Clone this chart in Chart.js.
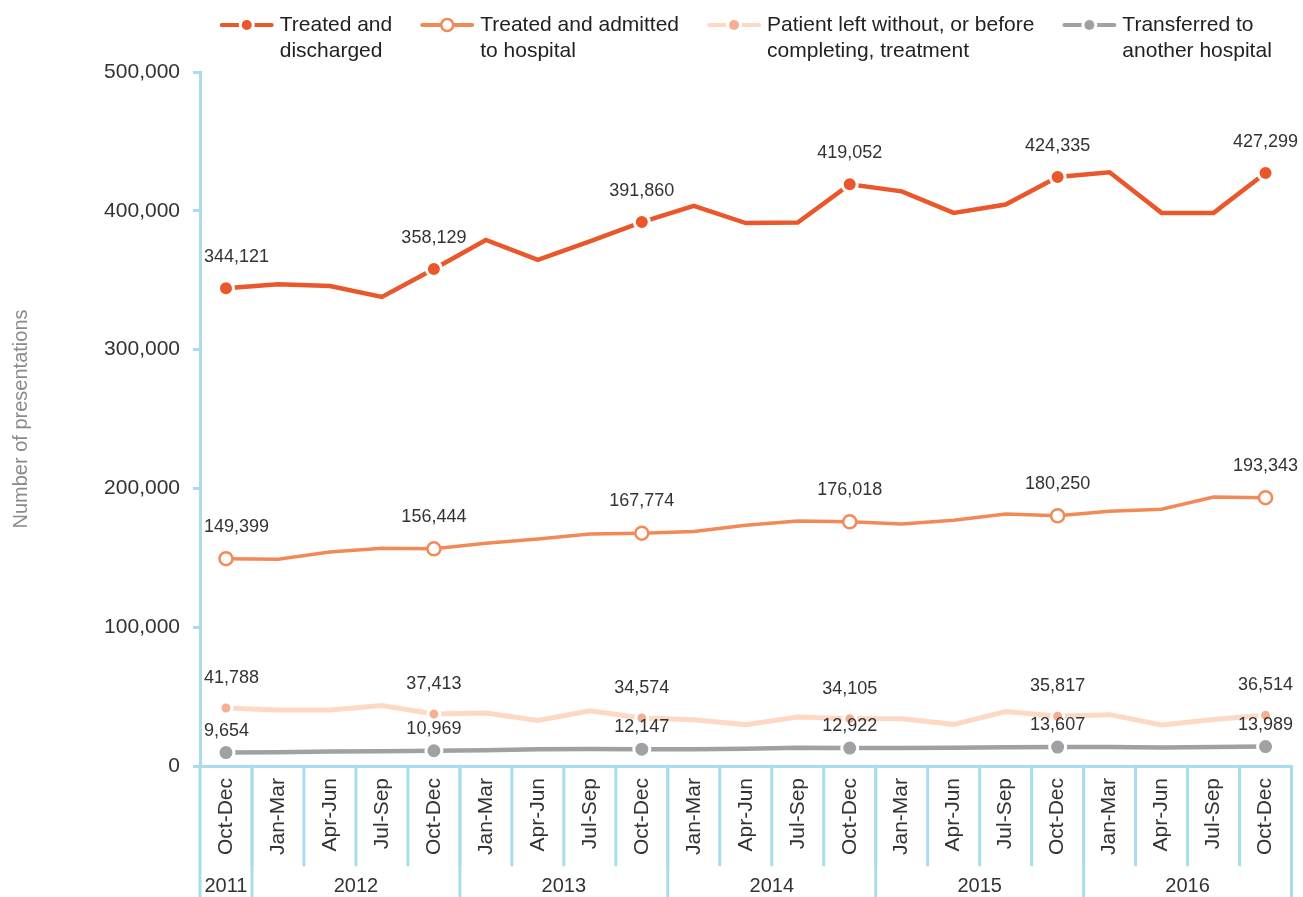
<!DOCTYPE html>
<html>
<head>
<meta charset="utf-8">
<script src="https://cdn.jsdelivr.net/npm/chart.js@4.4.0/dist/chart.umd.min.js"></script>
<style>
  html, body { margin: 0; padding: 0; background: #fff; }
  #wrap { width: 1303px; height: 897px; }
</style>
</head>
<body>
<div id="wrap"><canvas id="chart"></canvas></div>
<script>
// data
const quarters = ["Oct-Dec",
  "Jan-Mar", "Apr-Jun", "Jul-Sep", "Oct-Dec",
  "Jan-Mar", "Apr-Jun", "Jul-Sep", "Oct-Dec",
  "Jan-Mar", "Apr-Jun", "Jul-Sep", "Oct-Dec",
  "Jan-Mar", "Apr-Jun", "Jul-Sep", "Oct-Dec",
  "Jan-Mar", "Apr-Jun", "Jul-Sep", "Oct-Dec"];
const years = ["2011", "2012", "2013", "2014", "2015", "2016"];
const yearSpans = [1, 4, 4, 4, 4, 4];
const yTicks = [0, 100000, 200000, 300000, 400000, 500000];

const treatedDischarged = [344121, 347000, 345800, 337900, 358129, 379000, 364600, 378000, 391860,
  403500, 391200, 391500, 419052, 414000, 398500, 404500, 424335, 427800, 398500, 398500, 427299];
const treatedAdmitted = [149399, 149000, 154200, 156800, 156444, 160500, 163500, 167200, 167774,
  169000, 173400, 176500, 176018, 174400, 177000, 181500, 180250, 183500, 185000, 193800, 193343];
const patientLeft = [41788, 40300, 40400, 43500, 37413, 38200, 32800, 39800, 34574,
  33300, 29800, 35300, 34105, 34000, 30000, 39200, 35817, 37000, 29500, 33500, 36514];
const transferred = [9654, 9900, 10400, 10700, 10969, 11400, 12000, 12300, 12147,
  12100, 12400, 13100, 12922, 13000, 13200, 13500, 13607, 13700, 13300, 13600, 13989];

const seriesNames = [
  ["Treated and", "discharged"],
  ["Treated and admitted", "to hospital"],
  ["Patient left without, or before", "completing, treatment"],
  ["Transferred to", "another hospital"]
];

const axisBlue = "#a8dcee";
const FONT = "'Liberation Sans', Arial, sans-serif";
Chart.defaults.font.family = FONT;

const isMarker = i => quarters[i] === "Oct-Dec";

const styles = [
  { line: "#e9572b", dot: "#e9572b", hollow: false, width: 4.5, r: 7.5, off: 31 },
  { line: "#f28a58", dot: "#f28a58", hollow: true, width: 3.5, r: 6.5, off: 32 },
  { line: "#fdd8c5", dot: "#f6b08f", hollow: false, width: 5, r: 6, off: 30 },
  { line: "#a1a1a5", dot: "#a1a1a5", hollow: false, width: 4.5, r: 8, off: 22 }
];
const allSeries = [treatedDischarged, treatedAdmitted, patientLeft, transferred];

const datasets = allSeries.map((d, i) => {
  const s = styles[i];
  return {
    label: seriesNames[i].join(" "),
    data: d,
    borderColor: s.line,
    borderWidth: s.width,
    tension: 0,
    pointRadius: ctx => isMarker(ctx.dataIndex) ? s.r : 0,
    pointHoverRadius: ctx => isMarker(ctx.dataIndex) ? s.r : 0,
    pointBackgroundColor: s.hollow ? "#fff" : s.dot,
    pointBorderColor: s.hollow ? s.line : "#fff",
    pointBorderWidth: s.hollow ? 2.5 : 3
  };
});

// legend drawn above the plot, centred on the chart area
const legendRow = {
  id: "legendRow",
  afterDraw(chart) {
    const { ctx, chartArea } = chart;
    const symW = 54, gapText = 6, gapItem = 28, y1 = 25, lh = 26;
    ctx.save();
    ctx.font = "21px " + FONT;
    const widths = seriesNames.map(lines =>
      symW + gapText + Math.max(...lines.map(t => ctx.measureText(t).width)));
    const total = widths.reduce((a, b) => a + b, 0) + gapItem * (widths.length - 1);
    let x = (chartArea.left + chartArea.right) / 2 - total / 2;
    seriesNames.forEach((lines, i) => {
      const s = styles[i];
      ctx.strokeStyle = s.line; ctx.lineWidth = 4; ctx.lineCap = "round";
      ctx.beginPath(); ctx.moveTo(x + 2, y1); ctx.lineTo(x + symW - 2, y1); ctx.stroke();
      const cx = x + symW / 2;
      if (s.hollow) {
        ctx.fillStyle = "#fff"; ctx.lineWidth = 2.5;
        ctx.beginPath(); ctx.arc(cx, y1, 6, 0, Math.PI * 2); ctx.fill(); ctx.stroke();
      } else {
        ctx.fillStyle = "#fff";
        ctx.beginPath(); ctx.arc(cx, y1, 8, 0, Math.PI * 2); ctx.fill();
        ctx.fillStyle = s.dot;
        ctx.beginPath(); ctx.arc(cx, y1, 5, 0, Math.PI * 2); ctx.fill();
      }
      ctx.fillStyle = "#222";
      ctx.textAlign = "left";
      ctx.textBaseline = "middle";
      lines.forEach((t, k) => ctx.fillText(t, x + symW + gapText, y1 + k * lh));
      x += widths[i] + gapItem;
    });
    ctx.restore();
  }
};

// value labels + two-row x axis frame
const decor = {
  id: "decor",
  afterDatasetsDraw(chart) {
    const { ctx, chartArea } = chart;
    ctx.save();
    ctx.font = "18px " + FONT;
    ctx.fillStyle = "#333";
    ctx.textBaseline = "middle";
    ctx.textAlign = "center";
    chart.data.datasets.forEach((ds, di) => {
      const meta = chart.getDatasetMeta(di);
      meta.data.forEach((pt, i) => {
        if (!isMarker(i)) return;
        const txt = ds.data[i].toLocaleString("en-US");
        const w = ctx.measureText(txt).width;
        const x = Math.max(pt.x, chartArea.left + 4 + w / 2);
        ctx.fillText(txt, x, pt.y - styles[di].off);
      });
    });
    ctx.restore();
  },
  afterDraw(chart) {
    const { ctx, chartArea, scales: { x } } = chart;
    const top = chartArea.bottom;
    const bottom = chart.height;
    const half = (x.getPixelForValue(1) - x.getPixelForValue(0)) / 2;
    ctx.save();
    ctx.strokeStyle = axisBlue;
    ctx.lineWidth = 3;
    ctx.lineCap = "round";
    const line = (x1, y1, x2, y2) => { ctx.beginPath(); ctx.moveTo(x1, y1); ctx.lineTo(x2, y2); ctx.stroke(); };
    // y axis runs down through the category rows
    line(chartArea.left, top, chartArea.left, bottom);
    // quarter separators
    for (let i = 1; i < quarters.length; i++) {
      const px = x.getPixelForValue(i) - half;
      line(px, top, px, top + 99);
    }
    // year separators and year labels
    ctx.font = "20px " + FONT;
    ctx.fillStyle = "#333";
    ctx.textAlign = "center";
    ctx.textBaseline = "middle";
    let start = 0;
    years.forEach((yr, k) => {
      const end = start + yearSpans[k] - 1;
      const l = x.getPixelForValue(start) - half;
      const r = x.getPixelForValue(end) + half;
      line(r, top, r, bottom);
      ctx.fillText(yr, (l + r) / 2, top + 120);
      start = end + 1;
    });
    ctx.restore();
  }
};

new Chart(document.getElementById("chart"), {
  type: "line",
  data: { labels: quarters, datasets: datasets },
  options: {
    responsive: true,
    maintainAspectRatio: false,
    animation: false,
    events: [],
    layout: { padding: { top: 72, right: 8, left: 0, bottom: 0 } },
    plugins: {
      tooltip: { enabled: false },
      legend: { display: false }
    },
    scales: {
      x: {
        offset: true,
        grid: { display: false, drawTicks: false },
        border: { color: axisBlue, width: 3 },
        ticks: {
          autoSkip: false,
          minRotation: 90,
          maxRotation: 90,
          padding: 12,
          color: "#333",
          font: { size: 21 }
        },
        afterFit: s => { s.height = 131; }
      },
      y: {
        min: yTicks[0],
        max: yTicks[yTicks.length - 1],
        afterBuildTicks: s => { s.ticks = yTicks.map(v => ({ value: v })); },
        grid: { drawOnChartArea: false, drawTicks: true, tickLength: 7, color: axisBlue, lineWidth: 3 },
        border: { color: axisBlue, width: 3 },
        ticks: {
          padding: 13,
          color: "#333",
          font: { size: 21 },
          callback: v => v.toLocaleString("en-US")
        },
        title: {
          display: true,
          text: "Number of presentations",
          color: "#8a8a8a",
          font: { size: 20 },
          padding: { top: 9, bottom: 0 }
        },
        afterFit: s => { s.width = 200; }
      }
    }
  },
  plugins: [decor, legendRow]
});
</script>
</body>
</html>
